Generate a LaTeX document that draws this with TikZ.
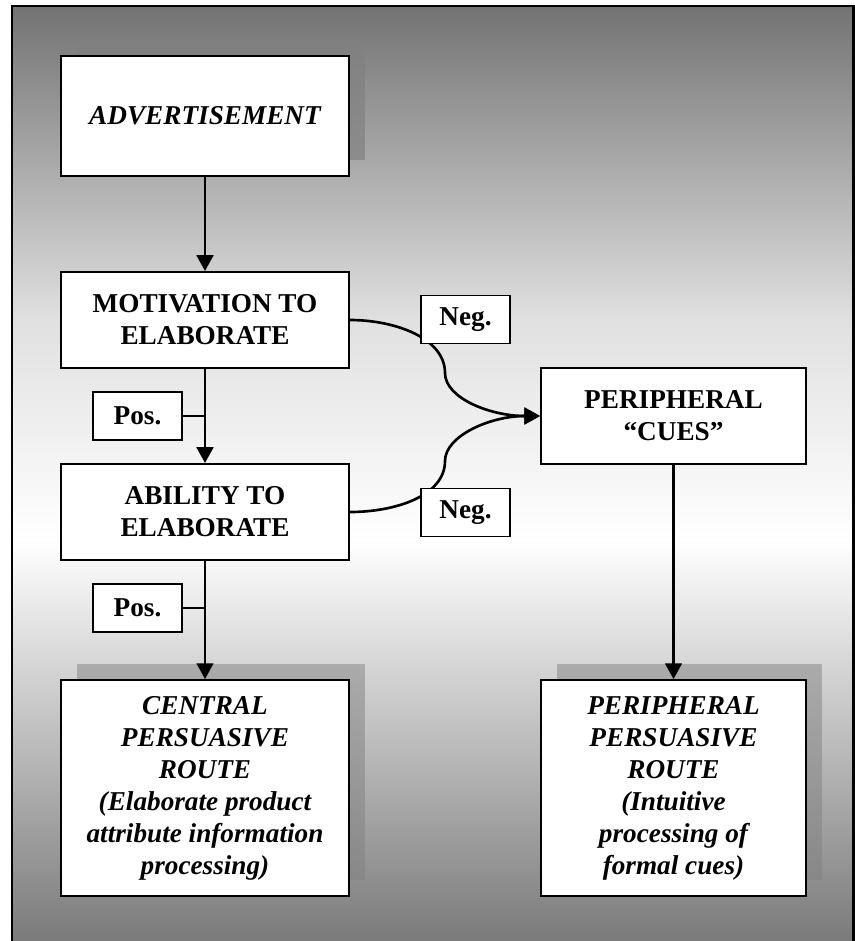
\documentclass[tikz,border=0pt]{standalone}
\usepackage{fontspec}
\setmainfont{Liberation Serif}
\usetikzlibrary{arrows.meta,shadows}
\newcommand{\boxsize}{\fontsize{15.5}{18.2}\selectfont}
\tikzset{
box/.style={draw, fill=white, line width=1.1pt, align=center, inner sep=2pt,
	minimum width=5.76cm, minimum height=1.92cm, font=\boxsize\bfseries},
route/.style={box, minimum height=4.32cm, font=\boxsize\bfseries\itshape},
tag/.style={draw, fill=white, line width=1.1pt, minimum width=1.78cm,
	minimum height=0.96cm, font=\boxsize\bfseries},
link/.style={line width=1.5pt, -{Triangle[width=9.5pt,length=9pt]}},
shadowed/.style 2 args={general shadow={shadow xshift=0.32cm,
	shadow yshift=0.32cm, top color=#1, bottom color=#2}}
}

\begin{document}
\begin{tikzpicture}[x=0.02cm, y=-0.02cm]
	\useasboundingbox (0,0) rectangle (855,941);
	\clip (0,0) rectangle (855,941);
	% backdrop
	\shade[top color=black!55, bottom color=black!12] (12,6) rectangle (855,321);
	\shade[top color=black!12, bottom color=white] (12,320) rectangle (855,541);
	\shade[top color=white, bottom color=black!52] (12,540) rectangle (855,941);
	\draw[line width=1.3pt] (12,6) rectangle (853.5,960);

	\node[box, shadowed={black!50}{black!45}, minimum height=2.4cm,
		font=\boxsize\bfseries\itshape] (adv) at (205,116) {ADVERTISEMENT};
	\node[box] (mot) at (205,320) {MOTIVATION TO\\ELABORATE};
	\node[box] (abil) at (205,512) {ABILITY TO\\ELABORATE};
	\node[route, shadowed={black!33}{black!47}] (central) at (205,788)
		{CENTRAL\\PERSUASIVE\\ROUTE\\(Elaborate product\\attribute information\\processing)};
	\node[box, minimum width=5.3cm] (cues) at (673.5,416) {PERIPHERAL\\“CUES”};
	\node[route, shadowed={black!33}{black!47}, minimum width=5.3cm] (periph) at (673.5,788)
		{PERIPHERAL\\PERSUASIVE\\ROUTE\\(Intuitive\\processing of\\formal cues)};

	\coordinate (s1) at (445,373);
	\coordinate (s2) at (445,461);
	\draw[link] (mot.east) .. controls +(45,0) and +(0,-35) .. (s1)
		.. controls +(0,25) and +(-50,0) .. (cues.west);
	\draw[link] (abil.east) .. controls +(45,0) and +(0,35) .. (s2)
		.. controls +(0,-25) and +(-50,0) .. (cues.west);

	\draw[link] (adv) -- (mot);
	\draw[link] (mot) -- (abil);
	\draw[link] (abil) -- (central);
	\draw[link] (cues) -- (periph);

	\node[tag] (pos1) at (137.5,416) {Pos.};
	\node[tag] (pos2) at (137.5,608) {Pos.};
	\node[tag] (neg1) at (465.5,319.5) {Neg.};
	\node[tag] (neg2) at (465.5,512.5) {Neg.};
	\draw[line width=1.1pt] (pos1.east) -- (pos1.east -| mot.south);
	\draw[line width=1.1pt] (pos2.east) -- (pos2.east -| abil.south);
\end{tikzpicture}
\end{document}
